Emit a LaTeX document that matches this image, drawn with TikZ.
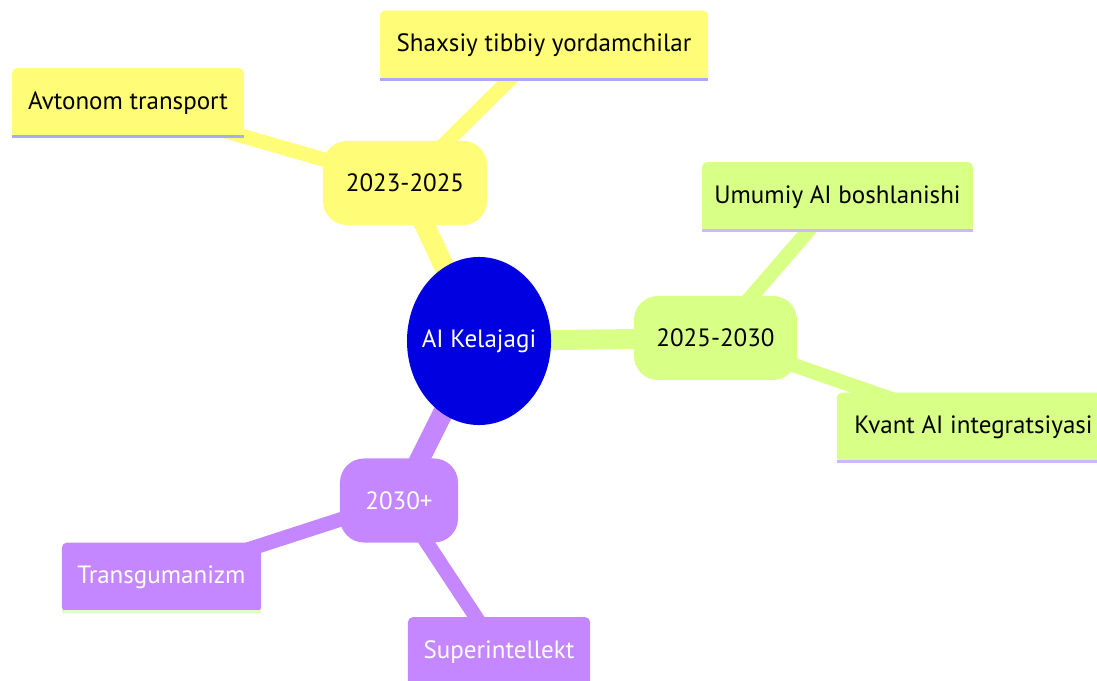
\documentclass[tikz,border=0pt]{standalone}
\usepackage{fontspec}
\setmainfont{PT Sans}
\usetikzlibrary{shapes.geometric, backgrounds}
\definecolor{rootblue}{HTML}{0000E0}
\definecolor{secyellow}{HTML}{FFFC78}
\definecolor{secgreen}{HTML}{D8FF86}
\definecolor{secpurple}{HTML}{C487FF}
\definecolor{lineyellow}{HTML}{AAAAFA}
\definecolor{linegreen}{HTML}{CFB8FF}
\definecolor{linepurple}{HTML}{DDFFC4}

\begin{document}
\begin{tikzpicture}[x=0.025cm, y=-0.025cm,
  every node/.style={font=\fontsize{17.8}{20}\selectfont, inner sep=0pt},
  sectionbox/.style={rectangle, rounded corners=0.6cm, minimum height=2.1cm},
  leafbox/.style={rectangle, rounded corners=0.12cm, minimum height=1.74cm},
  rootedge/.style={line width=0.5cm},
  leafedge/.style={line width=0.36cm},
  underline/.style={line width=0.075cm}]
\useasboundingbox (0,0) rectangle (1097,681);

\node[ellipse, fill=rootblue, text=white, inner xsep=-0.2cm, minimum width=3.6cm, minimum height=4.2cm] (root) at (479,341) {AI Kelajagi};

\node[sectionbox, fill=secyellow, minimum width=4.1cm] (y2023) at (405,183) {2023-2025};
\node[leafbox, fill=secyellow, minimum width=5.8cm] (avtonom) at (128,103) {Avtonom transport};
\node[leafbox, fill=secyellow, minimum width=8.2cm] (shaxsiy) at (544,45.5) {Shaxsiy tibbiy yordamchilar};

\node[sectionbox, fill=secgreen, minimum width=4.075cm] (y2025) at (715.5,338) {2025-2030};
\node[leafbox, fill=secgreen, minimum width=6.775cm] (umumiy) at (837.5,197) {Umumiy AI boshlanishi};
\node[leafbox, fill=secgreen, minimum width=6.825cm] (kvant) at (973.5,427.5) {Kvant AI integratsiyasi};

\node[sectionbox, fill=secpurple, text=white, minimum width=2.95cm] (y2030) at (399,500.5) {2030+};
\node[leafbox, fill=secpurple, text=white, minimum width=4.975cm] (transg) at (161.5,577.5) {Transgumanizm};
\node[leafbox, fill=secpurple, text=white, minimum width=4.55cm] (superi) at (499,652) {Superintellekt};

\draw[underline, lineyellow] ([yshift=0.0375cm]avtonom.south west) -- ([yshift=0.0375cm]avtonom.south east);
\draw[underline, lineyellow] ([yshift=0.0375cm]shaxsiy.south west) -- ([yshift=0.0375cm]shaxsiy.south east);
\draw[underline, linegreen] ([yshift=0.0375cm]umumiy.south west) -- ([yshift=0.0375cm]umumiy.south east);
\draw[underline, linegreen] ([yshift=0.0375cm]kvant.south west) -- ([yshift=0.0375cm]kvant.south east);
\draw[underline, linepurple] ([yshift=0.0375cm]transg.south west) -- ([yshift=0.0375cm]transg.south east);

\begin{scope}[on background layer]
\draw[rootedge, secyellow] (root.center) -- (y2023.center);
\draw[rootedge, secgreen] (root.center) -- (y2025.center);
\draw[rootedge, secpurple] (root.center) -- (y2030.center);
\draw[leafedge, secyellow] (y2023.center) -- (avtonom.center);
\draw[leafedge, secyellow] (y2023.center) -- (shaxsiy.center);
\draw[leafedge, secgreen] (y2025.center) -- (umumiy.center);
\draw[leafedge, secgreen] (y2025.center) -- (kvant.center);
\draw[leafedge, secpurple] (y2030.center) -- (transg.center);
\draw[leafedge, secpurple] (y2030.center) -- (superi.center);
\end{scope}
\end{tikzpicture}
\end{document}
